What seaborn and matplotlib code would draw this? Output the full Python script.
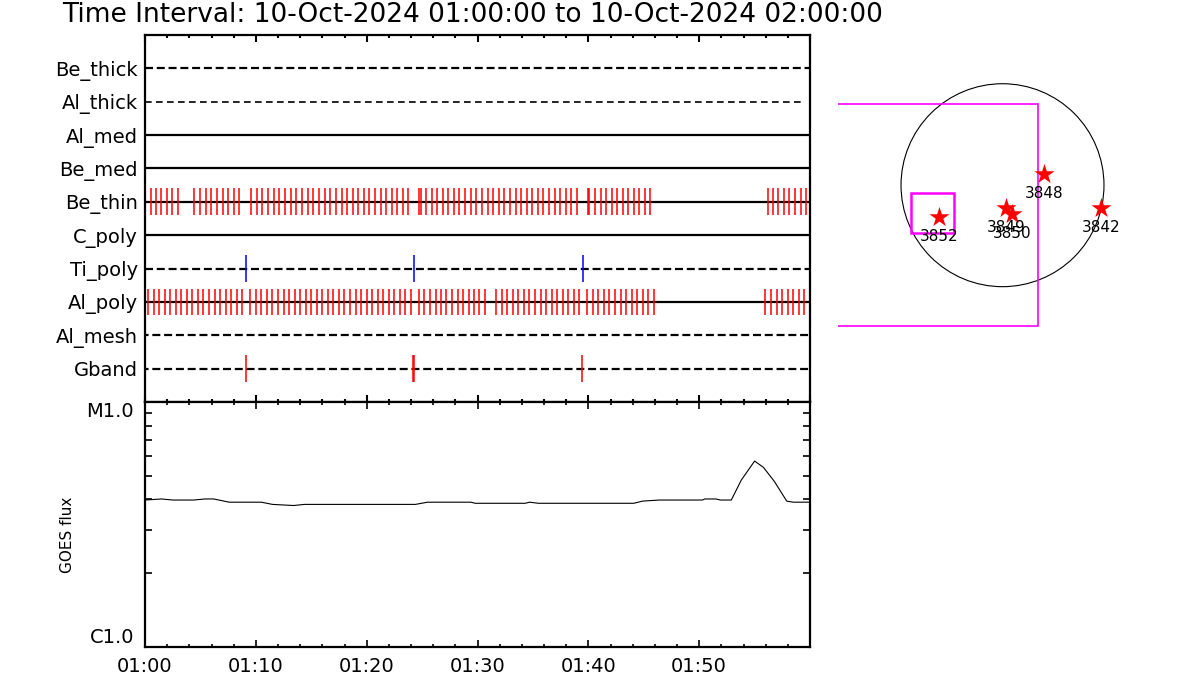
import numpy as np
import pandas as pd
import matplotlib
matplotlib.use("Agg")
import matplotlib.pyplot as plt
import seaborn as sns
from matplotlib import patches, ticker

# ---------------- DATA ----------------
title = "Time Interval: 10-Oct-2024 01:00:00 to 10-Oct-2024 02:00:00"

filters = ["Be_thick", "Al_thick", "Al_med", "Be_med", "Be_thin",
           "C_poly", "Ti_poly", "Al_poly", "Al_mesh", "Gband"]

# exposure times, minutes after 01:00
be_thin_times = [0.02, 0.51, 0.99, 1.47, 1.98, 2.46, 3.0,
                 4.45, 4.96, 5.47, 5.98, 6.5, 7.01, 7.52, 8.03, 8.51,
                 9.57, 10.08, 10.59, 11.1, 11.61, 12.12, 12.63, 13.14, 13.65,
                 14.17, 14.68, 15.19, 15.7, 16.21, 16.72, 17.23, 17.74, 18.26,
                 18.74, 19.25, 19.76, 20.24, 20.75, 21.26, 21.75, 22.26, 22.77,
                 23.25, 23.7,
                 24.75, 24.87, 25.35, 25.86, 26.38, 26.86, 27.37, 27.88, 28.36,
                 28.87, 29.38, 29.86, 30.44, 30.92, 31.43, 31.94, 32.42, 32.93,
                 33.44, 33.93, 34.44, 34.95, 35.46, 35.94, 36.45, 36.96, 37.44,
                 37.96, 38.44, 38.95,
                 39.99, 40.09, 40.6, 41.12, 41.59, 42.11, 42.59, 43.1, 43.61,
                 44.09, 44.6, 45.11, 45.59,
                 56.18, 56.63, 57.14, 57.65, 58.14, 58.65, 59.16, 59.64]

al_poly_times = [0.30, 0.78, 1.29, 1.78, 2.28, 2.77, 3.27, 3.76, 4.27, 4.78,
                 5.26, 5.77, 6.29, 6.77, 7.28, 7.79, 8.27, 8.78,
                 9.50, 10.01, 10.49, 11.0, 11.48, 11.99, 12.51, 12.99, 13.5,
                 14.0, 14.49, 14.98, 15.49, 16.0, 16.48, 16.99, 17.5, 17.98,
                 18.5, 19.01, 19.49, 20.0, 20.51, 20.99, 21.5, 22.01, 22.49,
                 23.0, 23.48, 24.0,
                 24.72, 25.2, 25.71, 26.23, 26.7, 27.18, 27.7, 28.21, 28.69,
                 29.2, 29.69, 30.17, 30.68,
                 31.67, 32.18, 32.69, 33.17, 33.68, 34.19, 34.67, 35.18, 35.7,
                 36.17, 36.69, 37.2, 37.68, 38.19, 38.71, 39.19,
                 39.91, 40.39, 40.9, 41.41, 41.89, 42.4, 42.92, 43.4, 43.91,
                 44.42, 44.9, 45.41, 45.9,
                 55.97, 56.48, 56.99, 57.5, 57.98, 58.49, 59.0, 59.49, 60.0]

ti_poly_times = [9.14, 24.3, 39.55]
gband_times = [9.08, 24.2, 24.27, 39.46]

# GOES flux (units of 1e-6 W/m^2)
goes_minutes = [0, 1.5, 2.5, 4.4, 5.4, 6.2, 7.6, 10.5, 11.5, 13.4, 14.4, 24.4,
                25.5, 29.4, 29.8, 34.3, 34.7, 35.5, 44.1, 44.9, 46.4, 50.3,
                50.5, 51.5, 51.9, 52.9, 53.8, 55.0, 55.8, 56.8, 57.9, 58.5, 59.9]
goes_flux = [3.98, 4.02, 3.98, 3.98, 4.02, 4.02, 3.90, 3.90, 3.82, 3.78, 3.82,
             3.82, 3.90, 3.90, 3.86, 3.86, 3.90, 3.86, 3.86, 3.94, 3.98, 3.98,
             4.02, 4.02, 3.98, 3.98, 4.80, 5.74, 5.41, 4.73, 3.94, 3.90, 3.90]

time_ticks = [0, 10, 20, 30, 40, 50]
time_labels = ["01:00", "01:10", "01:20", "01:30", "01:40", "01:50"]

# active regions on the disk (arcsec)
ar_numbers = ["3852", "3849", "3850", "3848", "3842"]
ar_x = [-601, 33, 87, 395, 932]
ar_y = [-304, -219, -272, 103, -219]

# pointing boxes (arcsec): x0, x1, y0, y1
fov_box = [-2400, 339, -1332, 765]
target_box = [-866, -459, -455, -71]
solar_radius = 960

# ---------------- STYLE ----------------
sns.set_theme(style="white")
plt.rcParams["font.family"] = ["DejaVu Sans"]
plt.rcParams["axes.linewidth"] = 1.5

fig = plt.figure(figsize=(12, 7), dpi=100)
W, H = 1200, 700

ax_top = fig.add_axes([145 / W, 298 / H, 665 / W, 367 / H])
ax_goes = fig.add_axes([145 / W, 53 / H, 665 / W, 245 / H])
ax_sun = fig.add_axes([837.6 / W, 349.9 / H, 329.8 / W, 329.8 / H])

for ax in (ax_top, ax_goes):
    for sp in ax.spines.values():
        sp.set_color("black")
        sp.set_linewidth(1.6)

# ---------------- FILTER TIMELINE ----------------
dashed = {"Be_thick", "Al_thick", "Ti_poly", "Al_mesh", "Gband"}
events = {"Be_thin": (be_thin_times, "#ff0000"),
          "Al_poly": (al_poly_times, "#ff0000"),
          "Ti_poly": (ti_poly_times, "#0000ff"),
          "Gband": (gband_times, "#ff0000")}

n = len(filters)
for i, name in enumerate(filters):
    y = n - i
    if name == "Al_thick":
        ax_top.axhline(y, xmax=0.992, color="black", lw=1.2, ls=(0, (4.0, 2.6)))
    elif name in dashed:
        off = 2.0 if name in ("Al_mesh", "Gband") else 0
        ax_top.axhline(y, color="black", lw=1.6, ls=(off, (3.6, 1.7)))
    else:
        ax_top.axhline(y, color="black", lw=1.6)
    if name in events:
        times, col = events[name]
        ax_top.vlines(times, y - 0.4, y + 0.4, color=col, lw=1.1)

ax_top.set_xlim(0, 60)
ax_top.set_ylim(0, n + 1)
ax_top.set_yticks(range(n, 0, -1))
ax_top.set_yticklabels(filters)
ax_top.xaxis.set_major_locator(ticker.MultipleLocator(10))
ax_top.xaxis.set_minor_locator(ticker.MultipleLocator(2))
ax_top.tick_params(axis="x", which="both", direction="in", top=True, bottom=True,
                   labelbottom=False, width=1.5, color="black")
ax_top.tick_params(axis="x", which="major", length=5)
ax_top.tick_params(axis="x", which="minor", length=2.5)
ax_top.tick_params(axis="y", length=0, labelsize=14, pad=5, labelcolor="black")

# ---------------- GOES ----------------
goes = pd.DataFrame({"minute": goes_minutes, "flux": np.array(goes_flux) * 1e-6})
sns.lineplot(data=goes, x="minute", y="flux", ax=ax_goes, color="black", lw=0.8)
ax_goes.set_yscale("log")
ax_goes.set_xlim(0, 60)
ax_goes.set_ylim(1e-6, 1e-5)
ax_goes.set_xlabel("")
ax_goes.set_ylabel("")
ax_goes.set_xticks(time_ticks)
ax_goes.set_xticklabels(time_labels)
ax_goes.xaxis.set_minor_locator(ticker.MultipleLocator(2))
ax_goes.set_yticks([1e-6, 1e-5])
ax_goes.set_yticklabels(["C1.0", "M1.0"])
ax_goes.yaxis.set_minor_locator(ticker.LogLocator(base=10, subs=range(2, 10)))
ax_goes.yaxis.set_minor_formatter(ticker.NullFormatter())
ax_goes.tick_params(axis="both", which="both", direction="in", top=True, bottom=True,
                    left=True, right=True, color="black", width=1.2, labelsize=14,
                    labelcolor="black")
ax_goes.tick_params(axis="x", which="major", length=5, pad=7)
ax_goes.tick_params(axis="x", which="minor", length=2.5)
ax_goes.tick_params(axis="y", which="both", length=5, pad=8)
ylabs = ax_goes.get_yticklabels()
ylabs[0].set_va("bottom")
ylabs[1].set_va("top")
fig.text(67 / W, 1 - 535 / H, "GOES flux", rotation=90, ha="center", va="center",
         fontsize=11, color="black")

# ---------------- SUN MAP ----------------
ax_sun.set_xlim(-1560, 1560)
ax_sun.set_ylim(-1560, 1560)
ax_sun.axis("off")
ax_sun.add_patch(patches.Circle((0, 0), solar_radius, fill=False, color="black", lw=0.8))
ax_sun.add_patch(patches.Rectangle((fov_box[0], fov_box[2]), fov_box[1] - fov_box[0],
                                   fov_box[3] - fov_box[2], fill=False,
                                   edgecolor="#ff00ff", lw=1.2, clip_on=True))
ax_sun.add_patch(patches.Rectangle((target_box[0], target_box[2]),
                                   target_box[1] - target_box[0],
                                   target_box[3] - target_box[2], fill=False,
                                   edgecolor="#ff00ff", lw=1.8))
sns.scatterplot(x=ar_x, y=ar_y, marker="*", s=230, color="#ff0000", linewidth=0,
                ax=ax_sun, zorder=3)
for num, x, y in zip(ar_numbers, ar_x, ar_y):
    ax_sun.annotate(num, (x, y), xytext=(0, -14), textcoords="offset points",
                    ha="center", va="center", fontsize=11, color="black")

fig.text(62 / W, 1 - 15 / H, title, ha="left", va="center", fontsize=19, color="black")

fig.savefig("out.png", dpi=100, facecolor="white")
